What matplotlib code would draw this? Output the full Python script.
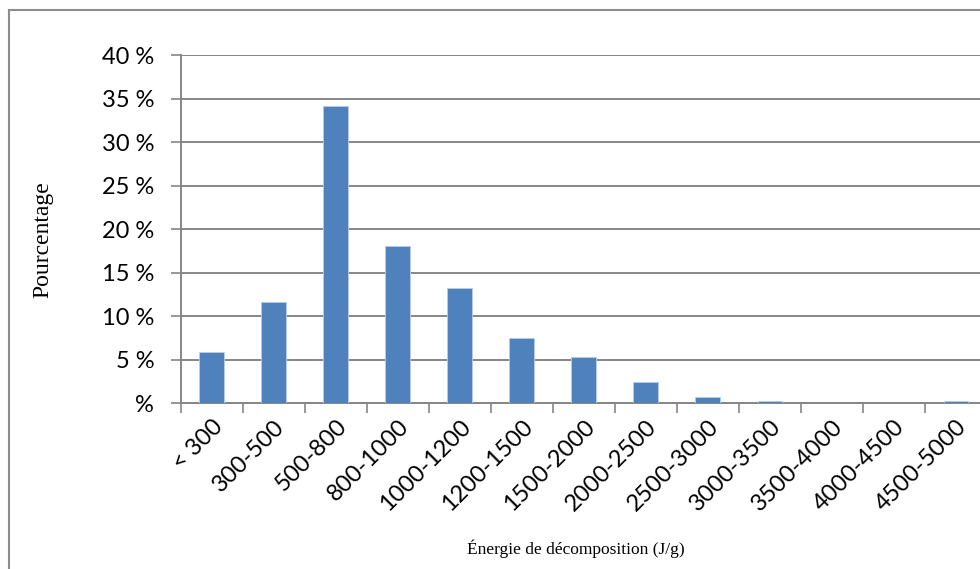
import numpy as np
import matplotlib
matplotlib.use("Agg")
import matplotlib.pyplot as plt
from matplotlib.lines import Line2D

# data
categories = ['< 300', '300-500', '500-800', '800-1000', '1000-1200', '1200-1500',
              '1500-2000', '2000-2500', '2500-3000', '3000-3500', '3500-4000',
              '4000-4500', '4500-5000']
percent = [5.9, 11.6, 34.1, 18.1, 13.2, 7.5, 5.35, 2.4, 0.75, 0.25, 0.0, 0.0, 0.25]
yticks = [0, 5, 10, 15, 20, 25, 30, 35, 40]

W, H = 980, 569
fig = plt.figure(figsize=(W / 100, H / 100), dpi=100)
fig.patch.set_facecolor('white')

tick_font = 'Lato'

# plot area (runs off the right edge like the reference)
left, right, top, bottom = 180.7, 987, 55, 403.3
ax = fig.add_axes([left / W, 1 - bottom / H, (right - left) / W, (bottom - top) / H])

x = np.arange(len(categories))
ax.bar(x, percent, width=0.4, color='#4F81BD', edgecolor='#B9CDE5', linewidth=0.6, zorder=3)

ax.set_xlim(-0.5, len(categories) - 0.5)
ax.set_ylim(0, 40)

grey = '#868686'
ax.set_yticks(yticks)
ax.set_yticklabels(['%' if v == 0 else f'{v} %' for v in yticks],
                   fontsize=17, family=tick_font, color='black')
ax.yaxis.grid(True, color=grey, linewidth=1.4, zorder=0)
ax.tick_params(axis='y', length=7, width=1.2, color=grey, pad=12)

ax.set_xticks(x)
ax.set_xticklabels(categories, rotation=45, ha='right', va='top',
                   rotation_mode='anchor', fontsize=17, family=tick_font)
ax.tick_params(axis='x', which='major', length=0, pad=9)
ax.set_xticks(np.arange(len(categories) + 1) - 0.5, minor=True)
ax.tick_params(axis='x', which='minor', length=7, width=1.2, color=grey)

for s in ['top', 'right']:
    ax.spines[s].set_visible(False)
for s in ['left', 'bottom']:
    ax.spines[s].set_color(grey)
    ax.spines[s].set_linewidth(1.4)

fig.text(576 / W, 1 - 549 / H, 'Énergie de décomposition (J/g)', ha='center', va='center',
         fontsize=12.5, family='Liberation Serif')
fig.text(43 / W, 1 - 240 / H, 'Pourcentage', ha='center', va='center', rotation=90,
         fontsize=17, family='Liberation Serif')

# outer chart border (cropped on the right and bottom)
fig.add_artist(Line2D([9 / W, 9 / W], [1 - 10 / H, 0], color='#8C8C8C', linewidth=1.5))
fig.add_artist(Line2D([9 / W, 1], [1 - 10 / H, 1 - 10 / H], color='#8C8C8C', linewidth=1.5))

fig.savefig('out.png', dpi=100)
